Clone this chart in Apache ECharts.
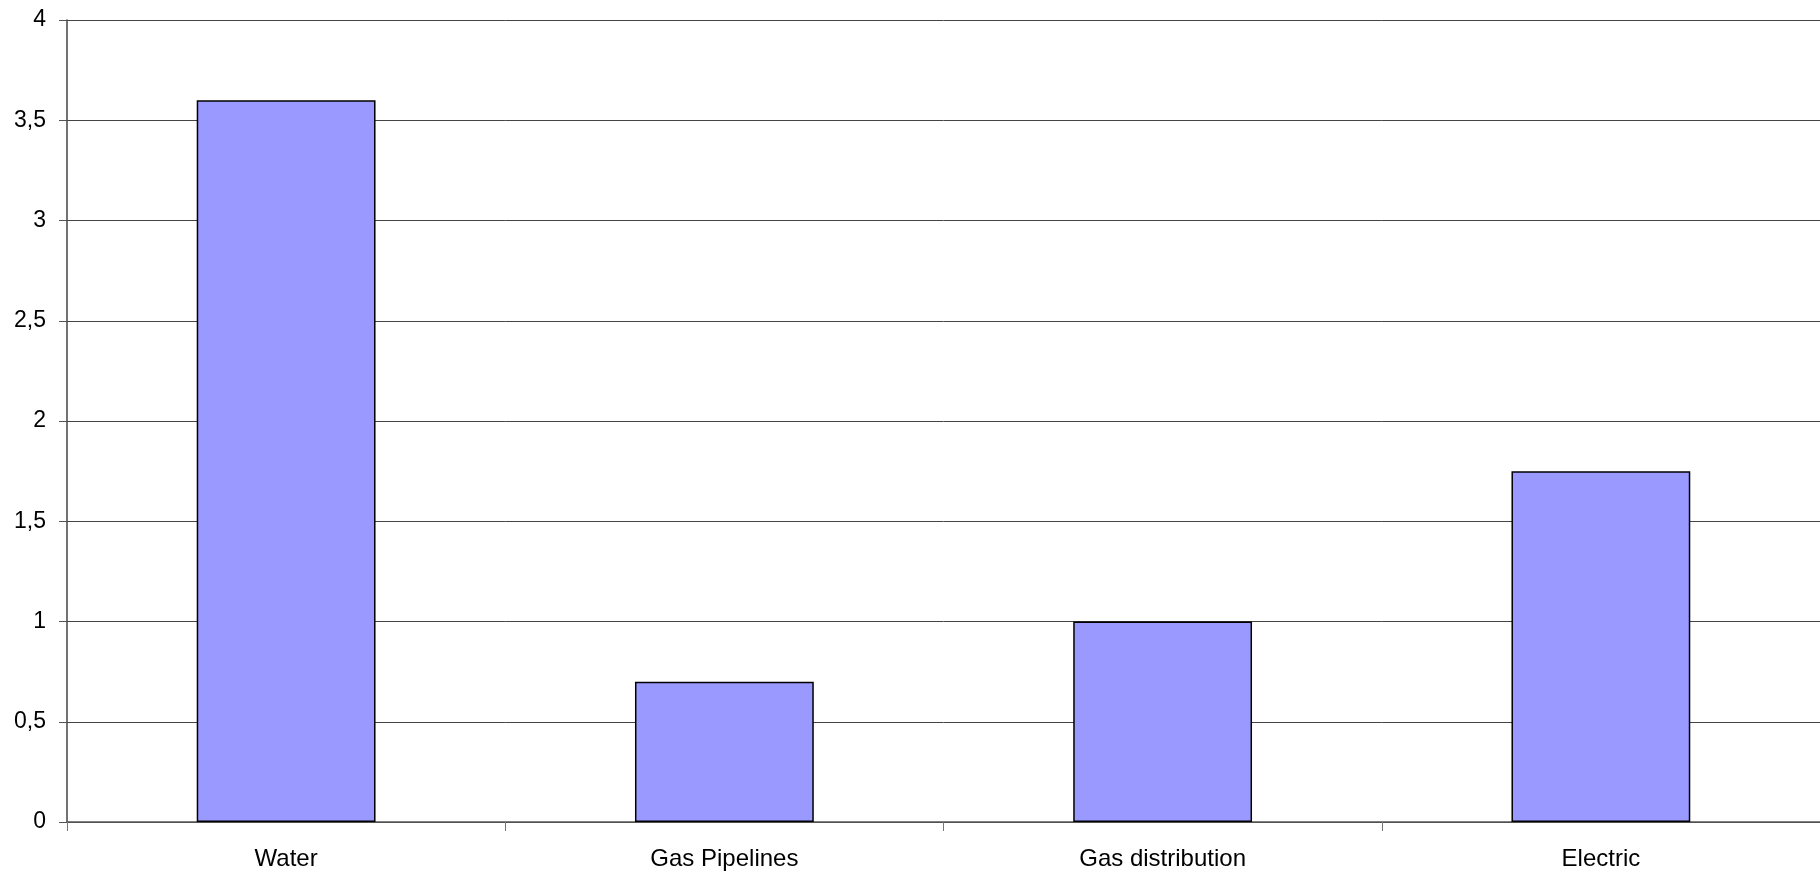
<!DOCTYPE html>
<html>
<head>
<meta charset="utf-8">
<style>
  html, body { margin: 0; padding: 0; background: #fff; }
  #chart { width: 1820px; height: 873px; }
</style>
<script src="https://cdn.jsdelivr.net/npm/echarts@6/dist/echarts.min.js"></script>
</head>
<body>
<div id="chart"></div>
<script>
var categories = ["Water", "Gas Pipelines", "Gas distribution", "Electric"];
var values = [3.6, 0.7, 1.0, 1.75];

var chart = echarts.init(document.getElementById("chart"));
chart.setOption({
  animation: false,
  grid: {
    left: 67,
    width: 1758,
    top: 20,
    bottom: 51,
    containLabel: false
  },
  xAxis: {
    type: "category",
    data: categories,
    axisLine: { lineStyle: { color: "#555", width: 1.5 } },
    axisTick: { show: true, length: 9, lineStyle: { color: "#777" } },
    axisLabel: {
      color: "#000",
      fontFamily: "Arial, Liberation Sans",
      fontSize: 24,
      margin: 25
    }
  },
  yAxis: {
    type: "value",
    min: 0,
    max: 4,
    interval: 0.5,
    axisLine: { show: true, lineStyle: { color: "#444", width: 1.5 } },
    axisTick: { show: true, length: 8, lineStyle: { color: "#555" } },
    splitLine: { lineStyle: { color: "#444", width: 1 } },
    axisLabel: {
      color: "#000",
      fontFamily: "Arial, Liberation Sans",
      fontSize: 23,
      margin: 21,
      formatter: function (v) {
        return String(v).replace(".", ",");
      }
    }
  },
  series: [
    {
      type: "bar",
      data: values,
      barWidth: "40.8%",
      itemStyle: {
        color: "#9999ff",
        borderColor: "#000",
        borderWidth: 1.5
      }
    }
  ]
});
</script>
</body>
</html>
